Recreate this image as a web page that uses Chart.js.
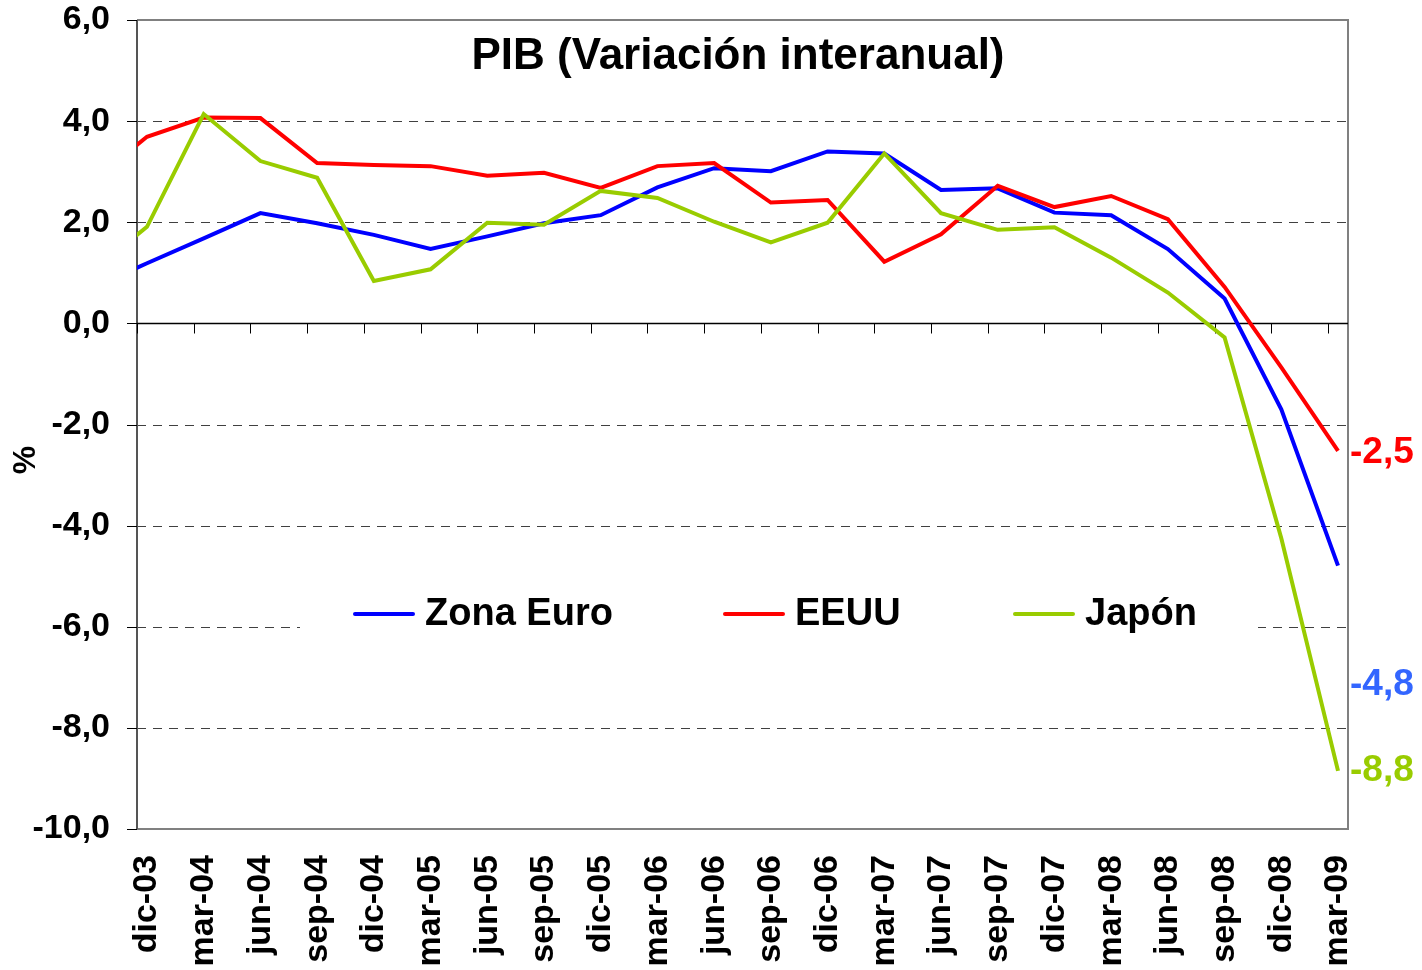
<!DOCTYPE html>
<html>
<head>
<meta charset="utf-8">
<title>PIB (Variación interanual)</title>
<script src="https://cdn.jsdelivr.net/npm/chart.js@4.4.0/dist/chart.umd.min.js"></script>
<style>
  html, body { margin: 0; padding: 0; background: #fff; }
  #wrap { width: 1422px; height: 970px; }
</style>
</head>
<body>
<div id="wrap"><canvas id="gdpChart" width="1422" height="970"></canvas></div>
<script>
// --- 1. Data ---
// sep-03 sits just left of the plot; only a short stub of each line shows
const periods = ['sep-03', 'dic-03', 'mar-04', 'jun-04', 'sep-04', 'dic-04', 'mar-05', 'jun-05',
  'sep-05', 'dic-05', 'mar-06', 'jun-06', 'sep-06', 'dic-06', 'mar-07', 'jun-07', 'sep-07',
  'dic-07', 'mar-08', 'jun-08', 'sep-08', 'dic-08', 'mar-09'];
const zonaEuro = [0.68, 1.19, 1.68, 2.18, 1.98, 1.75, 1.47, 1.72, 1.98, 2.14, 2.69, 3.07,
  3.01, 3.40, 3.36, 2.64, 2.67, 2.19, 2.14, 1.47, 0.49, -1.70, -4.79];
const eeuu = [2.78, 3.69, 4.07, 4.06, 3.17, 3.13, 3.11, 2.92, 2.98, 2.68, 3.11, 3.17,
  2.39, 2.44, 1.22, 1.76, 2.72, 2.30, 2.52, 2.06, 0.72, -0.87, -2.52];
const japon = [1.00, 1.91, 4.14, 3.21, 2.88, 0.84, 1.07, 1.99, 1.95, 2.62, 2.48, 2.01,
  1.60, 1.99, 3.36, 2.18, 1.85, 1.90, 1.30, 0.61, -0.28, -4.25, -8.85];

const seriesNames = ['Zona Euro', 'EEUU', 'Japón'];
const endLabels = ['-4,8', '-2,5', '-8,8'];
const endLabelAt = [-7.15, -2.55, -8.85];   // y value where each end label sits

const yMin = -10, yMax = 6, yStep = 2;

// --- 2. Styles ---
const lineColors = ['#0000FF', '#FF0000', '#99CC00'];
const endLabelColors = ['#3366FF', '#FF0000', '#99CC00'];
const FONT = "'Liberation Sans', Arial, sans-serif";
const tickShift = 0.176;   // axis ticks sit a bit left of the data points

Chart.defaults.font.family = FONT;
Chart.defaults.color = '#000';

function toPoints(values) {
  return values.map((v, i) => ({ x: i - 1, y: v }));
}

// --- 3. Decorations drawn with the chart's own scales ---
const framePlugin = {
  id: 'frame',
  beforeDatasetsDraw(chart) {
    const { ctx, chartArea: a, scales: { x, y } } = chart;
    ctx.save();

    // dashed gridlines
    ctx.strokeStyle = '#404040';
    ctx.lineWidth = 1;
    ctx.setLineDash([9, 7]);
    for (let v = yMin + yStep; v < yMax; v += yStep) {
      if (v === 0) continue;
      const py = Math.round(y.getPixelForValue(v)) + 0.5;
      ctx.beginPath(); ctx.moveTo(a.left, py); ctx.lineTo(a.right, py); ctx.stroke();
    }
    ctx.setLineDash([]);

    // frame (top, right, bottom)
    ctx.strokeStyle = '#808080';
    ctx.lineWidth = 2;
    ctx.beginPath();
    ctx.moveTo(a.left, a.top); ctx.lineTo(a.right, a.top);
    ctx.lineTo(a.right, a.bottom); ctx.lineTo(a.left, a.bottom);
    ctx.stroke();

    // y axis line + ticks
    ctx.strokeStyle = '#555';
    ctx.beginPath(); ctx.moveTo(a.left, a.top); ctx.lineTo(a.left, a.bottom); ctx.stroke();
    ctx.strokeStyle = '#000';
    ctx.lineWidth = 1;
    for (let v = yMin; v <= yMax; v += yStep) {
      const py = Math.round(y.getPixelForValue(v)) + 0.5;
      ctx.beginPath(); ctx.moveTo(a.left - 10, py); ctx.lineTo(a.left, py); ctx.stroke();
    }

    // zero line with category ticks
    const y0 = Math.round(y.getPixelForValue(0)) + 0.5;
    ctx.lineWidth = 1.5;
    ctx.beginPath(); ctx.moveTo(a.left, y0); ctx.lineTo(a.right, y0); ctx.stroke();
    ctx.lineWidth = 1;
    for (let k = 0; k < periods.length - 1; k++) {
      const px = Math.round(x.getPixelForValue(k - tickShift)) + 0.5;
      ctx.beginPath(); ctx.moveTo(px, y0); ctx.lineTo(px, y0 + 10); ctx.stroke();
    }

    // title inside plot
    ctx.fillStyle = '#000';
    ctx.font = 'bold 44px ' + FONT;
    ctx.textAlign = 'center';
    ctx.textBaseline = 'middle';
    ctx.fillText('PIB (Variación interanual)', 738, 57);

    // y axis title
    ctx.save();
    ctx.translate(26, 460);
    ctx.rotate(-Math.PI / 2);
    ctx.font = 'bold 32px ' + FONT;
    ctx.fillText('%', 0, 0);
    ctx.restore();

    ctx.restore();
  },
  afterDatasetsDraw(chart) {
    const { ctx, chartArea: a, scales: { y } } = chart;
    ctx.save();

    // legend inside the plot, on a white box
    const ly = 614;
    ctx.fillStyle = '#fff';
    ctx.fillRect(300, 592, 958, 46);
    const sampleX = [355, 725, 1015];
    ctx.font = 'bold 38px ' + FONT;
    ctx.textAlign = 'left';
    ctx.textBaseline = 'middle';
    seriesNames.forEach((name, i) => {
      ctx.strokeStyle = lineColors[i];
      ctx.lineWidth = 4;
      ctx.lineCap = 'round';
      ctx.beginPath(); ctx.moveTo(sampleX[i], ly); ctx.lineTo(sampleX[i] + 58, ly); ctx.stroke();
      ctx.fillStyle = '#000';
      ctx.fillText(name, sampleX[i] + 70, ly + 1);
    });

    // end-of-series labels
    ctx.font = 'bold 37px ' + FONT;
    endLabels.forEach((txt, i) => {
      ctx.fillStyle = endLabelColors[i];
      ctx.fillText(txt, a.right + 2, y.getPixelForValue(endLabelAt[i]));
    });

    ctx.restore();
  }
};

// --- 4. Chart ---
const ctx = document.getElementById('gdpChart').getContext('2d');
const datasets = [zonaEuro, eeuu, japon].map((vals, i) => ({
  label: seriesNames[i],
  data: toPoints(vals),
  borderColor: lineColors[i],
  backgroundColor: lineColors[i],
  borderWidth: 4,
  pointRadius: 0,
  tension: 0,
  clip: 0,
  order: 3 - i
}));

new Chart(ctx, {
  type: 'line',
  data: { datasets },
  options: {
    responsive: false,
    animation: false,
    devicePixelRatio: 1,
    layout: { padding: { top: 20, right: 74, bottom: 0, left: 0 } },
    plugins: {
      legend: { display: false },
      tooltip: { enabled: false },
      title: { display: false }
    },
    scales: {
      x: {
        type: 'linear',
        min: -tickShift,
        max: (periods.length - 2) + tickShift,
        grid: { display: false, drawTicks: false },
        border: { display: false },
        afterBuildTicks(scale) {
          scale.ticks = periods.slice(1).map((p, i) => ({ value: i }));
        },
        afterFit(scale) {
          scale.height = 141;
          scale.paddingLeft = 0;
          scale.paddingRight = 0;
        },
        ticks: {
          autoSkip: false,
          minRotation: 90,
          maxRotation: 90,
          padding: 26,
          color: '#000',
          font: { size: 34, weight: 'bold' },
          callback: (v) => periods[v + 1] || ''
        }
      },
      y: {
        min: yMin,
        max: yMax,
        grid: { display: false, drawTicks: false },
        border: { display: false },
        afterFit(scale) {
          scale.width = 137;
          scale.paddingTop = 0;
          scale.paddingBottom = 0;
        },
        ticks: {
          stepSize: yStep,
          padding: 27,
          color: '#000',
          font: { size: 34, weight: 'bold' },
          callback: (v) => v.toFixed(1).replace('.', ',')
        }
      }
    }
  },
  plugins: [framePlugin]
});
</script>
</body>
</html>
